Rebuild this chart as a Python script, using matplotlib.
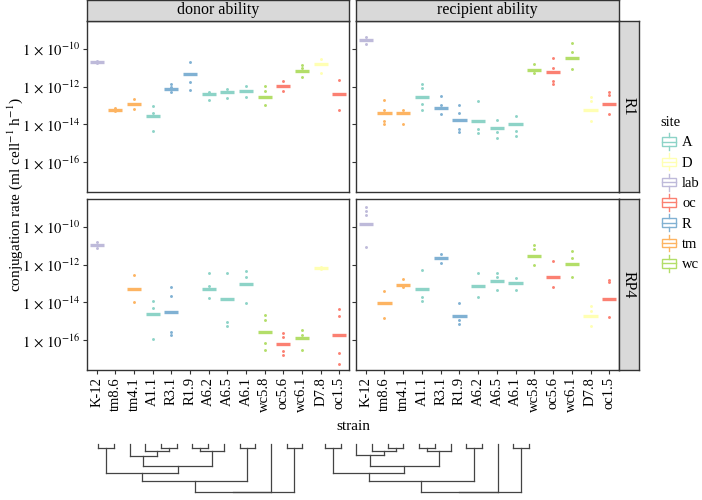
import numpy as np
import matplotlib
matplotlib.use("Agg")
import matplotlib.pyplot as plt
from matplotlib.legend_handler import HandlerBase
from matplotlib.patches import Patch, Rectangle
from matplotlib.lines import Line2D
from matplotlib.ticker import FixedLocator, FuncFormatter, NullLocator

plt.rcParams['font.family'] = ['Liberation Serif', 'DejaVu Serif']
plt.rcParams['mathtext.fontset'] = 'stix'

# strains in plot order and their sampling site
strains = ["K-12", "tm8.6", "tm4.1", "A1.1", "R3.1", "R1.9", "A6.2",
           "A6.5", "A6.1", "wc5.8", "oc5.6", "wc6.1", "D7.8", "oc1.5"]
sites = ["lab", "tm", "tm", "A", "R", "R", "A",
         "A", "A", "wc", "oc", "wc", "D", "oc"]
site_names = ["A", "D", "lab", "oc", "R", "tm", "wc"]
site_colours = ["#8DD3C7", "#FFFFB3", "#BEBADA", "#FB8072", "#80B1D3", "#FDB462", "#B3DE69"]

# log10 conjugation rates: median per strain and single replicates
donor_r1_med = [-10.69, -13.21, -12.93, -13.56, -12.11, -11.31, -12.41,
                -12.29, -12.22, -12.53, -11.97, -11.15, -10.78, -12.41]
donor_r1_pts = [[-10.62, -10.69, -10.76], [-13.15, -13.21, -13.27], [-12.64, -12.93, -13.2],
                [-13.03, -13.4, -14.33], [-11.83, -12.0, -12.29], [-10.69, -11.76, -12.2],
                [-12.29, -12.41, -12.73], [-12.11, -12.29, -12.59], [-11.97, -12.22, -12.55],
                [-11.97, -12.25, -12.98], [-11.68, -11.97, -12.22], [-10.83, -11.0, -11.49],
                [-10.51, -10.78, -11.29], [-11.65, -13.21]]

recip_r1_med = [-9.54, -13.42, -13.42, -12.53, -13.12, -13.78, -13.83,
                -14.17, -13.97, -11.12, -11.24, -10.48, -13.24, -12.91]
recip_r1_pts = [[-9.35, -9.72], [-12.68, -13.21, -13.83, -13.97], [-13.25, -13.97],
                [-11.86, -12.07, -12.93, -13.24], [-12.5, -12.96, -13.47],
                [-12.98, -13.4, -14.24, -14.43], [-12.78, -14.27, -14.47],
                [-13.78, -14.4, -14.7], [-13.55, -14.35, -14.6], [-10.78, -11.26],
                [-10.5, -10.99, -11.7, -11.83], [-9.66, -10.14, -11.08],
                [-12.55, -12.77, -13.83], [-12.27, -12.45, -13.47]]

donor_rp4_med = [-10.96, None, -13.28, -14.62, -14.51, None, -13.3,
                 -13.81, -13.03, -15.56, -16.2, -15.88, -12.16, -15.74]
donor_rp4_pts = [[-10.79, -11.12], [], [-12.57, -14.0], [-13.9, -14.29, -15.95],
                 [-13.17, -13.67, -15.56, -15.74], [], [-12.44, -13.13, -13.78],
                 [-12.46, -15.06, -15.28], [-12.32, -12.66, -14.05],
                 [-14.67, -14.94, -16.13, -16.52], [-15.61, -15.83, -16.6, -16.78],
                 [-15.45, -15.74, -16.52], [-12.1, -12.22], [-14.33, -14.71, -16.68, -17.26]]

recip_rp4_med = [-9.84, -14.05, -13.07, -13.3, -11.62, -14.71, -13.12,
                 -12.89, -12.96, -11.53, -12.67, -11.96, -14.71, -13.81]
recip_rp4_pts = [[-8.91, -9.13, -9.36, -11.05], [-13.4, -14.85], [-12.74, -13.2],
                 [-12.3, -13.69, -13.9], [-11.41, -11.91], [-14.05, -14.95, -15.17],
                 [-12.44, -13.69], [-12.44, -12.65, -13.32], [-12.71, -13.33],
                 [-10.96, -11.14, -12.03], [-11.8, -13.19], [-11.28, -11.64, -12.66],
                 [-14.17, -14.45, -15.24], [-12.8, -12.93, -14.76]]

# dendrogram merges: (child a, child b, height), leaves 0..13
tree_left = [(4, 5, 4.0), (3, 14, 7.3), (2, 15, 11.7), (6, 7, 4.0), (8, 17, 7.3),
             (16, 18, 22.3), (0, 1, 4.0), (20, 19, 29.0), (9, 10, 4.0), (21, 22, 36.7),
             (12, 13, 4.0), (23, 11, 47.3), (25, 24, 47.3)]
tree_right = [(4, 5, 4.0), (3, 14, 7.3), (2, 15, 10.7), (6, 7, 4.0), (8, 17, 7.3),
              (16, 18, 21.7), (0, 1, 4.0), (20, 19, 29.0), (9, 10, 4.0), (21, 22, 36.3),
              (12, 13, 4.0), (23, 11, 47.3), (25, 24, 47.3)]

W, H = 702, 500
edge = "#333333"


def px(l, t, r, b):
    return [l / W, 1 - b / H, (r - l) / W, (b - t) / H]


colour_of = dict(zip(site_names, site_colours))
fig = plt.figure(figsize=(W / 100, H / 100), dpi=100)


def draw_panel(ax, med, pts, show_y, show_x):
    for i, (m, p) in enumerate(zip(med, pts)):
        if m is None:
            continue
        c = colour_of[sites[i]]
        ax.hlines(10.0 ** m, i - 0.38, i + 0.38, color=c, lw=2.4)
        ax.plot([i] * len(p), 10.0 ** np.array(p), 'o', color=c, ms=2.1, mew=0)
    ax.set_yscale('log')
    ax.set_ylim(10 ** -17.59, 10 ** -8.51)
    ax.set_xlim(-0.52, 13.52)
    ax.yaxis.set_major_locator(FixedLocator([1e-10, 1e-12, 1e-14, 1e-16]))
    ax.yaxis.set_minor_locator(NullLocator())
    ax.yaxis.set_major_formatter(FuncFormatter(
        lambda v, _: r'$1\,\times\,10^{%d}$' % round(np.log10(v))))
    ax.set_xticks(range(len(strains)))
    ax.set_xticklabels(strains, rotation=90)
    ax.tick_params(length=3, color=edge, labelsize=10.5, pad=2,
                   labelleft=show_y, labelbottom=show_x, left=True, bottom=show_x)
    for s in ax.spines.values():
        s.set_color(edge)
        s.set_linewidth(1.0)


def strip(rect, text, rot=0):
    sa = fig.add_axes(rect)
    sa.set_facecolor("#D9D9D9")
    sa.set_xticks([])
    sa.set_yticks([])
    for s in sa.spines.values():
        s.set_color(edge)
        s.set_linewidth(1.0)
    sa.text(0.5, 0.5, text, ha='center', va='center', rotation=rot,
            fontsize=11.5, transform=sa.transAxes)


panels = [
    (px(87, 21, 349, 192), donor_r1_med, donor_r1_pts, True, False),
    (px(356, 21, 619, 192), recip_r1_med, recip_r1_pts, False, False),
    (px(87, 199, 349, 370), donor_rp4_med, donor_rp4_pts, True, True),
    (px(356, 199, 619, 370), recip_rp4_med, recip_rp4_pts, False, True),
]
for rect, med, pts, sy, sx in panels:
    draw_panel(fig.add_axes(rect), med, pts, sy, sx)

strip(px(87, 0, 349, 21), "donor ability")
strip(px(356, 0, 619, 21), "recipient ability")
strip(px(619, 21, 639, 192), "R1", 270)
strip(px(619, 199, 639, 370), "RP4", 270)

fig.text(15 / W, 1 - 195 / H, r"conjugation rate (ml cell$^{-1}$ h$^{-1}$)",
         rotation=90, ha='center', va='center', fontsize=11)
fig.text(353 / W, 1 - 427 / H, "strain", ha='center', va='center', fontsize=11)


class BoxKey(HandlerBase):
    def create_artists(self, legend, orig, xd, yd, width, height, fontsize, trans):
        c = orig.get_edgecolor()
        x0, x1 = -xd + 0.1 * width, -xd + 0.9 * width
        y0, y1 = -yd + 0.22 * height, -yd + 0.78 * height
        xm, ym = -xd + width / 2, -yd + height / 2
        arts = [Rectangle((x0, y0), x1 - x0, y1 - y0, fill=False, ec=c, lw=1.0),
                Line2D([x0, x1], [ym, ym], color=c, lw=1.0),
                Line2D([xm, xm], [-yd - 0.05 * height, y0], color=c, lw=1.0),
                Line2D([xm, xm], [y1, -yd + 1.05 * height], color=c, lw=1.0)]
        for a in arts:
            a.set_transform(trans)
        return arts


handles = [Patch(edgecolor=c, facecolor='none', label=s)
           for s, c in zip(site_names, site_colours)]
fig.legend(handles=handles, handler_map={Patch: BoxKey()}, loc='upper left',
           bbox_to_anchor=(650 / W, 1 - 106 / H), frameon=False, title='site',
           fontsize=10.5, title_fontsize=10.5, handlelength=1.2, handleheight=1.25,
           labelspacing=0.32, handletextpad=0.3, alignment='left', borderpad=0.2)


def draw_dendrogram(ax, merges, n):
    xpos = {i: float(i) for i in range(n)}
    hgt = {i: 0.0 for i in range(n)}
    for k, (a, b, h) in enumerate(merges):
        for c in (a, b):
            ax.plot([xpos[c], xpos[c]], [hgt[c], h], color="#444444", lw=0.9,
                    clip_on=False)
        ax.plot([xpos[a], xpos[b]], [h, h], color="#444444", lw=0.9, clip_on=False)
        xpos[n + k] = (xpos[a] + xpos[b]) / 2
        hgt[n + k] = h
    ax.set_xlim(0, n - 1)
    ax.set_ylim(max(m[2] for m in merges), 0)
    ax.axis('off')


draw_dendrogram(fig.add_axes(px(98.3, 444, 302.3, 491.7)), tree_left, len(strains))
draw_dendrogram(fig.add_axes(px(325, 444, 529, 491.7)), tree_right, len(strains))

fig.savefig("out.png", dpi=100)
